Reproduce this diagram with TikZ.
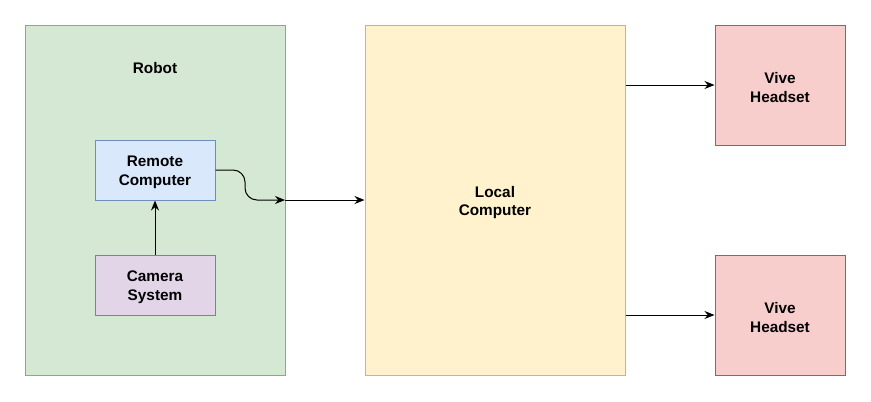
\documentclass[tikz,border=0pt]{standalone}
\usepackage{fontspec}
\setmainfont{Liberation Sans}
\usetikzlibrary{arrows.meta}
\definecolor{gfill}{HTML}{D5E8D4}\definecolor{gline}{HTML}{82B366}
\definecolor{yfill}{HTML}{FFF2CC}\definecolor{yline}{HTML}{D6B656}
\definecolor{rfill}{HTML}{F8CECC}\definecolor{rline}{HTML}{B85450}
\definecolor{bfill}{HTML}{DAE8FC}\definecolor{bline}{HTML}{6C8EBF}
\definecolor{pfill}{HTML}{E1D5E7}\definecolor{pline}{HTML}{9673A6}
\tikzset{
  lbl/.style={font=\fontsize{11.5}{14}\selectfont\bfseries, align=center},
  box/.style={draw, line width=0.75pt, inner sep=0pt},
  txt/.style={label={[lbl, yshift=-1.8pt]center:#1}},
  conn/.style={draw, line width=0.75pt, -{Stealth[length=7.5pt,width=6pt]}},
}
\begin{document}
\begin{tikzpicture}[x=0.75pt,y=-0.75pt]
\useasboundingbox (0,0) rectangle (871,401);
\node[box, fill=gfill, draw=gline, minimum width=195pt, minimum height=262.5pt] (robot) at (155,200) {};
\node[lbl] (robotlbl) at (155,68) {Robot};
\node[box, fill=yfill, draw=yline, minimum width=195pt, minimum height=262.5pt, txt={Local\\Computer}] (local) at (495,200) {};
\node[box, fill=rfill, draw=rline, minimum width=97.5pt, minimum height=90pt, txt={Vive\\Headset}] (vive1) at (780,85) {};
\node[box, fill=rfill, draw=rline, minimum width=97.5pt, minimum height=90pt, txt={Vive\\Headset}] (vive2) at (780,315) {};
\node[box, fill=bfill, draw=bline, minimum width=90pt, minimum height=45pt, txt={Remote\\Computer}] (remote) at (155,170) {};
\node[box, fill=pfill, draw=pline, minimum width=90pt, minimum height=45pt, txt={Camera\\System}] (camera) at (155,285) {};
\coordinate (rin) at (285,200);
\draw[conn] (camera) -- (remote);
\draw[conn, rounded corners=9pt] (remote.east) -- (245,170) -- (245,200) -- (rin);
\draw[conn] (rin) -- (local.west);
\draw[conn] (local.east |- vive1.west) -- (vive1.west);
\draw[conn] (local.east |- vive2.west) -- (vive2.west);
\end{tikzpicture}
\end{document}
